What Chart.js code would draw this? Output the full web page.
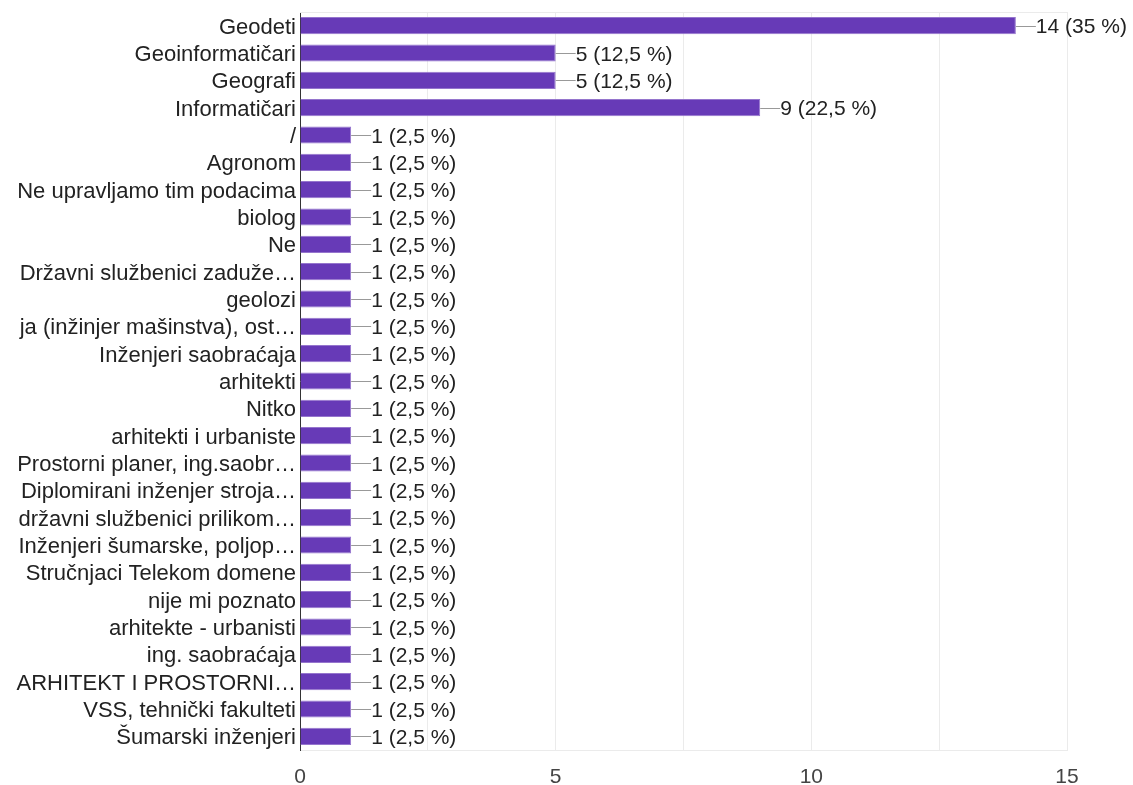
<!DOCTYPE html>
<html>
<head>
<meta charset="utf-8">
<script src="https://cdn.jsdelivr.net/npm/chart.js@4/dist/chart.umd.min.js"></script>
<style>
  body { margin: 0; background: #fff; }
  #wrap { width: 1133px; height: 785px; }
</style>
</head>
<body>
<div id="wrap"><canvas id="barChart" width="1133" height="785"></canvas></div>
<script>
// kategorije (odgovori) i broj odgovora
const categories = [
  'Geodeti', 'Geoinformatičari', 'Geografi', 'Informatičari', '/', 'Agronom',
  'Ne upravljamo tim podacima', 'biolog', 'Ne', 'Državni službenici zaduže…',
  'geolozi', 'ja (inžinjer mašinstva), ost…', 'Inženjeri saobraćaja', 'arhitekti',
  'Nitko', 'arhitekti i urbaniste', 'Prostorni planer, ing.saobr…',
  'Diplomirani inženjer stroja…', 'državni službenici prilikom…',
  'Inženjeri šumarske, poljop…', 'Stručnjaci Telekom domene', 'nije mi poznato',
  'arhitekte - urbanisti', 'ing. saobraćaja', 'ARHITEKT I PROSTORNI…',
  'VSS, tehnički fakulteti', 'Šumarski inženjeri'
];
const counts = [14, 5, 5, 9, 1, 1, 1, 1, 1, 1, 1, 1, 1, 1, 1, 1, 1, 1, 1, 1, 1, 1, 1, 1, 1, 1, 1];
const totalResponses = 40;
const xTicks = [0, 5, 10, 15];

const fontFamily = '"Liberation Sans", Arial, sans-serif';

function pctLabel(v) {
  const p = (v / totalResponses * 100).toString().replace('.', ',');
  return v + ' (' + p + ' %)';
}

// oznake vrijednosti s crticom desno od stupca, plus gornji rub
const valueLabels = {
  id: 'valueLabels',
  afterDatasetsDraw(chart) {
    const ctx = chart.ctx;
    const area = chart.chartArea;
    ctx.save();
    ctx.strokeStyle = '#ebebeb';
    ctx.lineWidth = 1;
    ctx.beginPath();
    ctx.moveTo(area.left, area.top + 0.5);
    ctx.lineTo(area.right, area.top + 0.5);
    ctx.stroke();

    const meta = chart.getDatasetMeta(0);
    ctx.font = '21px ' + fontFamily;
    ctx.fillStyle = '#222';
    ctx.textBaseline = 'middle';
    meta.data.forEach((bar, i) => {
      const x = bar.x, y = bar.y;
      ctx.strokeStyle = '#999';
      ctx.beginPath();
      ctx.moveTo(x, Math.round(y) + 0.5);
      ctx.lineTo(x + 20, Math.round(y) + 0.5);
      ctx.stroke();
      ctx.fillText(pctLabel(counts[i]), x + 20, y + 2);
    });
    ctx.restore();
  }
};

window.addEventListener('load', function() {
  const ctx = document.getElementById('barChart').getContext('2d');
  new Chart(ctx, {
    type: 'bar',
    data: {
      labels: categories,
      datasets: [{
        data: counts,
        backgroundColor: '#673ab7',
        borderColor: '#9575cd',
        borderWidth: 1,
        categoryPercentage: 1,
        barPercentage: 0.63
      }]
    },
    options: {
      indexAxis: 'y',
      responsive: false,
      animation: false,
      layout: { padding: { top: 12, right: 66, bottom: 0, left: 0 } },
      plugins: {
        legend: { display: false },
        tooltip: { enabled: false }
      },
      scales: {
        x: {
          min: 0,
          max: 15,
          afterBuildTicks(scale) {
            const t = [];
            for (let v = 0; v <= 15; v += 2.5) t.push({ value: v });
            scale.ticks = t;
          },
          afterFit(scale) { scale.height = 35; },
          ticks: {
            autoSkip: false,
            maxRotation: 0,
            padding: 15,
            color: '#444',
            font: { size: 21, family: fontFamily },
            callback: v => xTicks.includes(v) ? v : ''
          },
          grid: { color: '#ebebeb', drawTicks: false },
          border: { color: '#ebebeb' }
        },
        y: {
          afterFit(scale) {
            scale.width = 300;
            scale.paddingTop = 0;
            scale.paddingBottom = 0;
          },
          ticks: {
            autoSkip: false,
            padding: 4,
            labelOffset: 2,
            color: '#222',
            font: { size: 22, family: fontFamily }
          },
          grid: { display: false, drawTicks: false },
          border: { color: '#333', width: 1 }
        }
      }
    },
    plugins: [valueLabels]
  });
});
</script>
</body>
</html>
